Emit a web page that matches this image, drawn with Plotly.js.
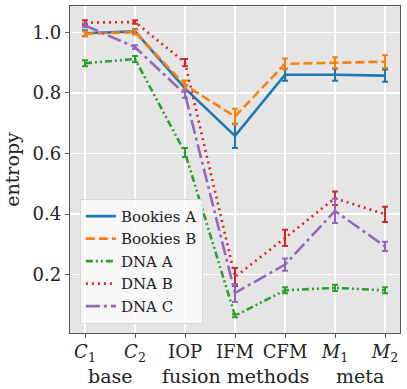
<!DOCTYPE html>
<html>
<head>
<meta charset="utf-8">
<script src="https://cdn.plot.ly/plotly-3.0.1.min.js"></script>
<style>html,body{margin:0;padding:0;background:#fff;}#chart{width:407px;height:389px;}</style>
</head>
<body>
<div id="chart"></div>
<script>
const tickLabels = ["<i>C</i><sub>1</sub>", "<i>C</i><sub>2</sub>", "IOP", "IFM", "CFM", "<i>M</i><sub>1</sub>", "<i>M</i><sub>2</sub>"];
const groupLabels = ["base", "fusion methods", "meta"];
const groupPositions = [0.5, 3, 5.5];
const seriesNames = ["Bookies A", "Bookies B", "DNA A", "DNA B", "DNA C"];

const bookiesA = [0.997, 1.003, 0.815, 0.658, 0.860, 0.860, 0.857];
const bookiesAErr = [0.01, 0.008, 0.01, 0.04, 0.02, 0.02, 0.02];
const bookiesB = [0.995, 1.001, 0.826, 0.722, 0.896, 0.900, 0.903];
const bookiesBErr = [0.008, 0.008, 0.015, 0.026, 0.018, 0.018, 0.021];
const dnaA = [0.898, 0.912, 0.603, 0.064, 0.148, 0.156, 0.148];
const dnaAErr = [0.01, 0.01, 0.015, 0.005, 0.01, 0.01, 0.01];
const dnaB = [1.032, 1.034, 0.900, 0.192, 0.321, 0.452, 0.399];
const dnaBErr = [0.008, 0.006, 0.012, 0.03, 0.027, 0.022, 0.025];
const dnaC = [1.023, 0.951, 0.796, 0.139, 0.233, 0.410, 0.293];
const dnaCErr = [0.006, 0.006, 0.012, 0.03, 0.02, 0.04, 0.015];

const xIdx = tickLabels.map((_, i) => i);
const colors = ["#1f77b4", "#ff7f0e", "#2ca02c", "#d62728", "#9467bd"];
const dashes = ["solid", "9px,4px", "7px,3px,2px,3px,2px,3px", "2px,4px", "14px,4px,3px,4px"];
const values = [bookiesA, bookiesB, dnaA, dnaB, dnaC];
const errs = [bookiesAErr, bookiesBErr, dnaAErr, dnaBErr, dnaCErr];

const traces = values.map((v, k) => ({
  x: xIdx, y: v, type: "scatter", mode: "lines", name: seriesNames[k],
  line: {color: colors[k], width: 2.6, dash: dashes[k]},
  error_y: {type: "data", array: errs[k], visible: true, color: colors[k], thickness: 2, width: 3}
}));

const font = "DejaVu Serif";
const layout = {
  width: 407, height: 389,
  margin: {l: 70, r: 7, t: 6, b: 56},
  paper_bgcolor: "#ffffff", plot_bgcolor: "#e5e5e5",
  font: {family: font, size: 18, color: "#222"},
  showlegend: true,
  legend: {x: 0.03, y: 0.028, xanchor: "left", yanchor: "bottom",
    bgcolor: "rgba(250,250,250,0.85)", bordercolor: "#d8d8d8", borderwidth: 1,
    font: {family: font, size: 15, color: "#222"}, tracegroupgap: 0, itemwidth: 30},
  xaxis: {range: [-0.3, 6.3], tickmode: "array", tickvals: xIdx, ticktext: tickLabels,
    showgrid: true, gridcolor: "#ffffff", gridwidth: 1.3, zeroline: false,
    showline: true, linecolor: "#555", linewidth: 1.2, mirror: true, ticklabelstandoff: -2,
    ticks: "outside", ticklen: 4, tickcolor: "#555", tickfont: {family: font, size: 18, color: "#222"}},
  yaxis: {range: [0.007, 1.087], tickmode: "array", tickvals: [0.2, 0.4, 0.6, 0.8, 1.0],
    ticktext: ["0.2", "0.4", "0.6", "0.8", "1.0"],
    showgrid: true, gridcolor: "#ffffff", gridwidth: 1.3, zeroline: false,
    showline: true, linecolor: "#555", linewidth: 1.2, mirror: true,
    ticks: "outside", ticklen: 4, tickcolor: "#555", tickfont: {family: font, size: 18, color: "#222"},
    title: {text: "entropy", font: {family: font, size: 19, color: "#222"}, standoff: 8}},
  annotations: groupLabels.map((g, i) => ({
    x: groupPositions[i], xref: "x", y: -0.132, yref: "paper", yanchor: "middle",
    text: g, showarrow: false, font: {family: font, size: 19, color: "#222"}
  }))
};

Plotly.newPlot("chart", traces, layout, {displayModeBar: false, staticPlot: true});
</script>
</body>
</html>
